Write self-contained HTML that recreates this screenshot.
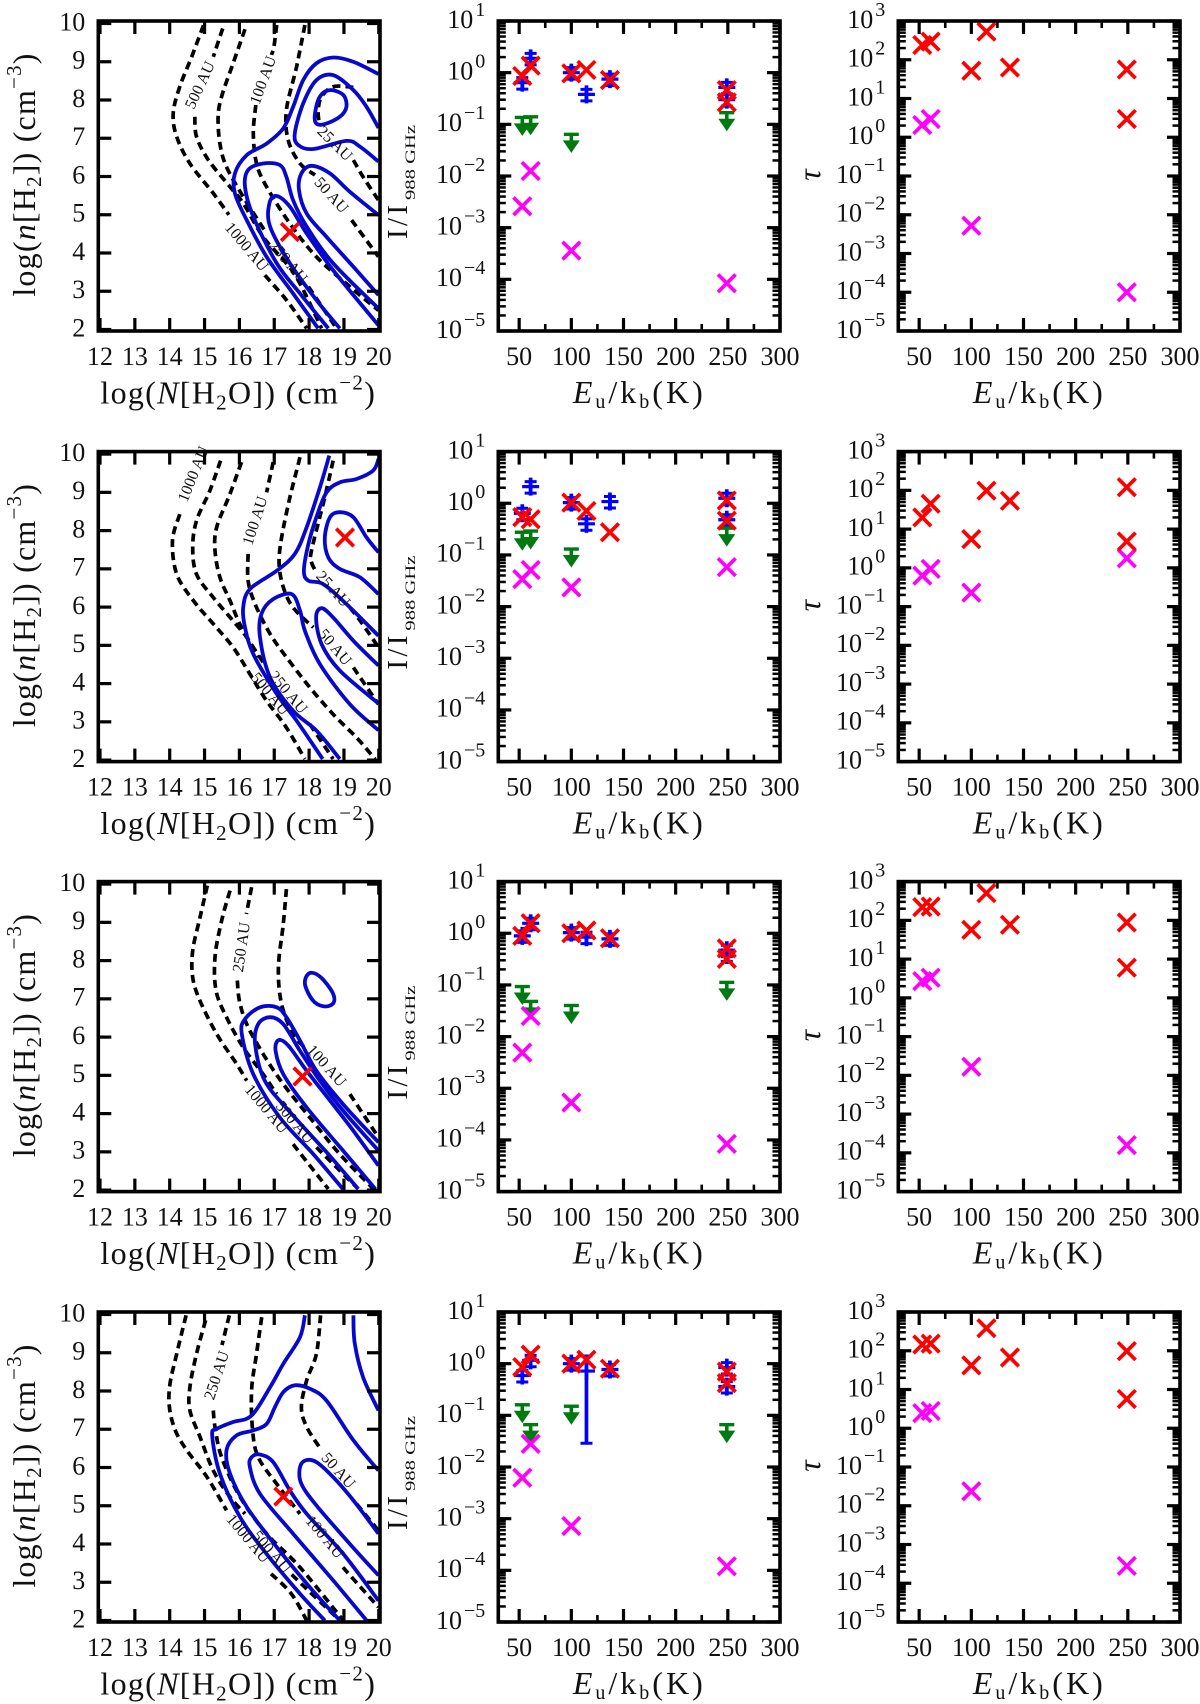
<!DOCTYPE html>
<html lang="en">
<head>
<meta charset="utf-8">
<title>Water line ratios and opacity model grid</title>
<style>
html,body{margin:0;padding:0;background:#fff;}
svg{display:block;font-family:"Liberation Serif","DejaVu Serif",serif;}
</style>
</head>
<body>
<svg id="figure" xmlns="http://www.w3.org/2000/svg" width="1200" height="1704" viewBox="0 0 1200 1704"></svg>
<script>
/* ---------- tick values ---------- */
const columnTicks = [12,13,14,15,16,17,18,19,20];
const densityTicks = [2,3,4,5,6,7,8,9,10];
const energyMajorTicks = [50,100,150,200,250,300];
const energyMinorTicks = [75,125,175,225,275];
const ratioTickExps = [1,0,-1,-2,-3,-4,-5];
const tauTickExps = [3,2,1,0,-1,-2,-3,-4,-5];

/* ---------- shared energies (K) ---------- */
const lineEnergies = [53,61,100,114.5,137,249,249];
const limitEnergies = [53,61,100,249];

/* ---------- row 1 ---------- */
const dashedRow1 = [
 [[14.97,9.95],[14.63,9.13],[14.29,8.35],[14.10,7.65],[14.20,7.04],[14.58,6.34],[15.25,5.56],[15.70,5.0]],
 [[16.73,3.42],[17.35,2.77],[17.93,2.03]],
 [[15.52,9.87],[15.25,9.13]],
 [[14.72,7.56],[14.77,7.04],[15.11,6.43],[15.73,5.73],[16.11,5.30],[16.68,4.42],[17.35,3.73],[17.74,3.2],[18.36,2.03]],
 [[16.16,9.85],[15.82,8.96],[15.49,8.09],[15.39,7.56],[15.44,6.86],[15.63,6.25],[16.11,5.47],[16.78,4.51]],
 [[17.98,3.12],[18.79,2.03]],
 [[17.07,9.96],[16.99,9.39],[16.92,9.18]],
 [[16.47,7.87],[16.4,7.13],[16.49,6.34],[16.78,5.73],[17.45,4.77],[18.21,3.9],[19.17,3.12],[19.99,2.5]],
 [[17.88,9.96],[17.64,8.87],[17.35,7.74],[17.4,6.95],[17.74,6.34],[18.17,6.04]],
 [[19.22,4.86],[19.99,3.9]],
 [[19.27,8.33],[18.7,8.35],[18.36,8.09],[18.26,7.74],[18.29,7.37]],
 [[19.27,6.43],[19.55,5.99],[19.99,5.38]]
];
const blueOpenRow1 = [
 [[19.99,8.68],[19.27,9.0],[18.69,9.11],[18.21,8.96],[17.83,8.52],[17.54,7.82],[17.26,7.26],[16.78,6.86],[16.21,6.56],[15.87,6.08],[15.87,5.56],[16.21,4.86],[16.78,3.9],[17.54,2.94],[18.26,2.03]],
 [[18.55,2.03],[17.74,2.94],[17.07,3.73],[16.4,4.95],[16.16,5.73],[16.25,6.17],[16.68,6.34],[17.16,6.3],[17.35,5.99],[17.54,5.38],[17.93,4.69],[18.69,3.73],[19.99,2.55]],
 [[18.88,2.03],[18.21,2.77],[17.45,3.73],[16.88,4.69],[16.86,5.3],[17.07,5.49],[17.45,5.21],[17.93,4.51],[18.69,3.55],[19.99,2.11]],
 [[19.99,2.9],[19.27,3.64],[18.5,4.42],[17.93,5.03],[17.71,5.64],[17.78,6.08],[18.07,6.28],[18.6,6.08],[19.17,5.6],[19.99,4.99]],
 [[19.99,7.27],[19.65,7.82],[19.27,8.26],[18.69,8.65],[18.21,8.52],[17.83,7.91],[17.59,7.13],[17.69,6.82],[18.12,6.72],[19.07,6.93],[19.46,6.78],[19.99,6.39]]
];
const blueClosedRow1 = [
 [[18.17,7.65],[18.31,8.09],[18.6,8.26],[18.98,8.13],[19.07,7.82],[18.88,7.56],[18.45,7.37],[18.2,7.39]]
];
const labelTextRow1 = ['500 AU','100 AU','25 AU','50 AU','250 AU','1000 AU'];
const labelXRow1 = [14.87,16.68,18.74,18.64,17.4,16.21];
const labelYRow1 = [8.39,8.52,6.86,5.51,3.77,4.16];
const labelAngleRow1 = [-65,-70,45,48,50,50];
const bestFitRow1 = [17.45,4.55];
const observedRow1 = [0.64,1.89,1.0,0.38,0.75,0.52,0.30];
const observedErrRow1 = [0.25,0.25,0.25,0.25,0.25,0.25,0.25];
const limitRow1 = [0.136,0.14,0.064,0.168];
const modelRedRow1 = [0.86,1.37,0.97,1.13,0.72,0.46,0.267];
const modelMagentaRow1 = [2.6e-3,1.25e-2,3.6e-4,8.4e-5];
const tauRedRow1 = [240,293,52,530,63,56,2.95];
const tauMagentaRow1 = [2.07,2.95,5.2e-3,1e-4];

/* ---------- row 2 ---------- */
const dashedRow2 = [
 [[14.29,8.43],[14.08,7.74],[14.2,6.86],[14.68,6.17],[15.25,5.56],[15.82,4.95],[16.3,4.25],[16.78,3.55],[17.35,2.85],[17.88,2.03]],
 [[15.46,9.83],[15.15,9.04],[14.77,8.26],[14.66,7.56],[14.77,6.86],[15.25,6.25],[15.82,5.64],[16.21,5.21],[16.54,4.69]],
 [[16.06,9.79],[15.73,8.96],[15.35,8.09],[15.3,7.48],[15.44,6.78],[15.73,6.17],[16.11,5.38],[16.78,4.42]],
 [[18.02,2.94],[18.69,2.03]],
 [[16.97,9.79],[16.78,9.0]],
 [[16.25,7.39],[16.25,6.69],[16.45,6.08],[16.88,5.3],[17.35,4.69],[18.02,3.9],[18.69,3.2],[19.36,2.59],[19.89,2.03]],
 [[17.74,9.92],[17.45,8.87],[17.21,7.82],[17.14,7.13],[17.26,6.52],[17.54,5.99],[18.12,5.47]],
 [[19.27,4.42],[19.99,3.46]],
 [[18.69,9.83],[18.45,8.87],[18.07,7.48],[18.07,7.17],[18.21,6.91]],
 [[19.17,5.99],[19.5,5.6],[19.99,4.95]]
];
const blueOpenRow2 = [
 [[18.58,9.96],[18.31,9.13],[17.93,8.09],[17.59,7.39],[17.07,6.95],[16.3,6.47],[16.11,5.99],[16.16,5.47],[16.4,4.77],[17.07,3.73],[17.64,3.03],[18.39,2.03]],
 [[18.88,2.03],[18.21,2.77],[17.54,3.29],[16.88,4.16],[16.59,5.21],[16.63,5.82],[16.97,6.21],[17.5,6.34],[17.74,5.91],[17.88,5.38],[18.31,4.51],[19.17,3.46],[19.99,2.78]],
 [[19.99,9.87],[19.84,9.57],[19.36,9.35],[18.88,9.26],[18.5,9.0],[18.21,8.35],[17.98,7.65],[17.85,6.95],[17.98,6.69],[18.41,6.6],[19.07,6.08],[19.99,5.25]],
 [[19.99,7.43],[19.65,7.82],[19.27,8.35],[18.88,8.48],[18.6,8.35],[18.45,7.82],[18.55,7.3],[18.88,7.0],[19.46,6.78],[19.99,6.34]],
 [[19.99,4.47],[19.27,5.12],[18.69,5.73],[18.36,5.97],[18.2,5.73],[18.36,5.03],[18.88,4.34],[19.99,3.48]]
];
const blueClosedRow2 = [];
const labelTextRow2 = ['1000 AU','100 AU','25 AU','50 AU','250 AU','500 AU'];
const labelXRow2 = [14.68,16.45,18.69,18.74,17.4,16.88];
const labelYRow2 = [9.48,8.26,6.47,4.95,3.77,3.73];
const labelAngleRow2 = [-68,-72,48,50,50,50];
const bestFitRow2 = [19.03,7.82];
const observedRow2 = [0.64,2.1,1.03,0.40,1.08,1.25,0.48];
const observedErrRow2 = [0.25,0.25,0.25,0.25,0.25,0.25,0.25];
const limitRow2 = [0.275,0.29,0.13,0.33];
const modelRedRow2 = [0.54,0.49,1.03,0.71,0.275,1.13,0.46];
const modelMagentaRow2 = [0.034,0.051,0.0236,0.058];
const tauRedRow2 = [20,45,5.5,98,54,120,4.8];
const tauMagentaRow2 = [0.63,0.94,0.23,1.77];

/* ---------- row 3 ---------- */
const dashedRow3 = [
 [[15.08,9.96],[14.87,9.13],[14.66,8.26],[14.66,7.56],[14.87,6.95],[15.35,6.08],[15.92,5.3],[16.21,4.86]],
 [[17.54,3.2],[18.55,2.03]],
 [[15.73,9.83],[15.49,9.04],[15.3,8.09],[15.33,7.21],[15.63,6.52],[16.11,5.73],[16.68,5.03],[17.07,4.51]],
 [[18.21,3.12],[19.41,2.03]],
 [[16.35,9.92],[16.2,9.22]],
 [[15.94,7.48],[16.0,6.95],[16.21,6.34],[16.68,5.56],[17.26,4.77],[18.02,3.9],[18.88,2.94],[19.85,2.03]],
 [[17.35,9.87],[17.26,8.96],[17.12,7.82],[17.21,6.86],[17.54,6.08],[17.87,5.73]],
 [[19.17,4.51],[19.99,3.38]]
];
const blueOpenRow3 = [
 [[18.97,2.03],[18.12,2.94],[17.16,3.9],[16.4,5.03],[16.07,6.08],[16.16,6.47],[16.59,6.78],[17.07,6.78],[17.35,6.52],[17.74,5.91],[18.21,5.12],[18.97,4.25],[19.99,3.25]],
 [[19.41,2.03],[18.55,2.94],[17.5,3.99],[16.73,4.86],[16.45,5.82],[16.54,6.34],[16.88,6.52],[17.26,6.34],[17.74,5.64],[18.31,4.86],[18.98,4.07],[19.99,3.03]],
 [[19.9,2.03],[19.06,2.94],[17.93,4.16],[17.26,5.03],[17.04,5.64],[17.12,5.92],[17.4,5.78],[17.93,5.12],[18.6,4.34],[19.27,3.55],[19.99,2.64]]
];
const blueClosedRow3 = [
 [[17.89,7.52],[18.05,7.68],[18.34,7.56],[18.67,7.17],[18.71,6.91],[18.48,6.8],[18.16,6.91],[17.92,7.26]]
];
const labelTextRow3 = ['250 AU','100 AU','1000 AU','500 AU'];
const labelXRow3 = [16.06,18.5,16.78,17.59];
const labelYRow3 = [8.35,5.25,4.12,3.77];
const labelAngleRow3 = [-82,48,50,50];
const bestFitRow3 = [17.81,4.97];
const observedRow3 = [0.89,1.56,1.03,0.84,0.78,0.47,0.38];
const observedErrRow3 = [0.25,0.25,0.25,0.25,0.25,0.25,0.25];
const limitRow3 = [0.093,0.048,0.04,0.112];
const modelRedRow3 = [0.89,1.56,1.0,1.13,0.8,0.51,0.32];
const modelMagentaRow3 = [4.9e-3,0.025,5.3e-4,8.4e-5];
const tauRedRow3 = [220,228,57,505,77,88,6];
const tauMagentaRow3 = [2.7,3.3,0.0167,1.58e-4];

/* ---------- row 4 ---------- */
const dashedRow4 = [
 [[14.47,9.98],[14.2,8.97],[14.01,8.19],[13.99,7.58],[14.16,6.97],[14.49,6.45],[15.07,5.75],[15.63,4.88]],
 [[16.91,3.22],[17.49,2.7],[17.93,2.0]],
 [[15.03,9.85],[14.77,8.97],[14.58,8.1],[14.58,7.49],[14.87,6.8],[15.25,5.92],[15.73,5.23],[16.16,4.79]],
 [[17.5,3.2],[18.88,2.0]],
 [[15.71,9.98],[15.5,9.2]],
 [[15.25,7.49],[15.3,7.06],[15.49,6.27],[16.02,5.23],[16.78,4.27],[17.74,3.39],[18.98,2.0]],
 [[16.64,9.93],[16.49,8.97],[16.35,8.02],[16.38,6.97],[16.54,6.27],[17.07,5.57],[17.74,4.79]],
 [[18.97,3.39],[19.99,2.35]],
 [[18.33,9.98],[18.21,8.97],[17.93,8.28],[17.78,7.58],[17.93,7.06],[18.36,6.45]],
 [[19.36,5.05],[19.99,4.35]]
];
const blueOpenRow4 = [
 [[17.88,9.98],[17.74,9.41],[17.26,8.71],[16.88,8.1],[16.35,7.36],[15.82,7.19],[15.35,7.01],[15.22,6.84],[15.44,5.84],[16.02,4.7],[16.78,3.74],[17.74,2.7],[18.45,2.0]],
 [[19.99,5.92],[19.27,6.71],[18.5,7.75],[18.02,8.06],[17.59,8.15],[17.26,7.97],[17.02,7.58],[16.78,7.14],[16.4,6.97],[15.92,6.84],[15.63,6.45],[15.73,5.84],[16.21,4.97],[17.07,3.92],[18.02,2.87],[18.88,2.0]],
 [[19.65,2.0],[18.69,3.05],[17.54,4.27],[16.59,5.31],[16.3,6.01],[16.35,6.27],[16.59,6.34],[16.97,6.14],[17.45,5.4],[17.93,4.79],[18.98,3.74],[19.99,2.52]],
 [[19.99,3.18],[19.17,4.0],[18.21,5.01],[17.78,5.57],[17.73,5.97],[17.88,6.18],[18.21,6.14],[18.69,5.75],[19.27,5.14],[19.99,4.27]],
 [[19.27,9.98],[19.31,9.24],[19.55,8.36],[19.99,7.49]]
];
const blueClosedRow4 = [];
const labelTextRow4 = ['250 AU','50 AU','100 AU','1000 AU','500 AU'];
const labelXRow4 = [15.35,18.84,18.45,16.25,16.92];
const labelYRow4 = [8.41,5.92,4.18,4.14,3.79];
const labelAngleRow4 = [-72,48,50,50,50];
const bestFitRow4 = [17.26,5.24];
const observedRow4 = [0.59,1.16,1.0,0.72,0.77,0.84,0.36];
const observedErrRow4 = [0.25,0.25,0.25,0.96,0.25,0.25,0.25];
const limitRow4 = [0.16,0.066,0.15,0.066];
const modelRedRow4 = [0.86,1.5,1.0,1.19,0.8,0.7,0.42];
const modelMagentaRow4 = [6.2e-3,0.028,7.2e-4,1.2e-4];
const tauRedRow4 = [145,153,42,382,67,98,5.7];
const tauMagentaRow4 = [2.45,2.8,0.0237,2.8e-4];

const rows = [
 {dashed:dashedRow1,open:blueOpenRow1,closed:blueClosedRow1,lt:labelTextRow1,lx:labelXRow1,ly:labelYRow1,la:labelAngleRow1,fit:bestFitRow1,obs:observedRow1,err:observedErrRow1,lim:limitRow1,red:modelRedRow1,mag:modelMagentaRow1,tr:tauRedRow1,tm:tauMagentaRow1},
 {dashed:dashedRow2,open:blueOpenRow2,closed:blueClosedRow2,lt:labelTextRow2,lx:labelXRow2,ly:labelYRow2,la:labelAngleRow2,fit:bestFitRow2,obs:observedRow2,err:observedErrRow2,lim:limitRow2,red:modelRedRow2,mag:modelMagentaRow2,tr:tauRedRow2,tm:tauMagentaRow2},
 {dashed:dashedRow3,open:blueOpenRow3,closed:blueClosedRow3,lt:labelTextRow3,lx:labelXRow3,ly:labelYRow3,la:labelAngleRow3,fit:bestFitRow3,obs:observedRow3,err:observedErrRow3,lim:limitRow3,red:modelRedRow3,mag:modelMagentaRow3,tr:tauRedRow3,tm:tauMagentaRow3},
 {dashed:dashedRow4,open:blueOpenRow4,closed:blueClosedRow4,lt:labelTextRow4,lx:labelXRow4,ly:labelYRow4,la:labelAngleRow4,fit:bestFitRow4,obs:observedRow4,err:observedErrRow4,lim:limitRow4,red:modelRedRow4,mag:modelMagentaRow4,tr:tauRedRow4,tm:tauMagentaRow4}
];

/* ---------- layout ---------- */
const rowTops = [21,451.6,881.6,1312];
const colLefts = [98.3,498.3,898.3];
const PW = 281.7, PH = 310;
const NS = 'http://www.w3.org/2000/svg';
const svg = document.getElementById('figure');

function mk(tag, parent){
  const el = document.createElementNS(NS, tag);
  parent.appendChild(el);
  return el;
}
function setAll(el, obj){ for(const k in obj) el.setAttribute(k, obj[k]); }

function tick(g, x1, y1, x2, y2, w){
  const l = mk('line', g);
  
  
  setAll(l, {x1:x1,y1:y1,x2:x2,y2:y2,stroke:'#000','stroke-width':w});
}
function text(g, pieces, x, y, size, anchor, transform, spacing){
  const t = mk('text', g);
  setAll(t, {x:x,y:y,'font-size':size,'text-anchor':anchor,fill:'#111'});
  if(transform) t.setAttribute('transform', transform);
  if(spacing) t.setAttribute('letter-spacing', spacing);
  let shift = 0;
  pieces.forEach(p => {
    const s = mk('tspan', t);
    s.textContent = p.t;
    const target = p.dy || 0;
    if(target !== shift){ s.setAttribute('dy', target - shift); shift = target; }
    if(p.size) s.setAttribute('font-size', p.size);
    if(p.italic) s.setAttribute('font-style', 'italic');
    if(p.dx) s.setAttribute('dx', p.dx);
  });
  return t;
}
function smooth(pts, closed){
  const n = pts.length;
  const at = i => closed ? pts[(i+n)%n] : pts[Math.max(0,Math.min(n-1,i))];
  let d = 'M' + pts[0][0].toFixed(1) + ' ' + pts[0][1].toFixed(1);
  const last = closed ? n : n-1;
  for(let i=0;i<last;i++){
    const p0=at(i-1),p1=at(i),p2=at(i+1),p3=at(i+2);
    const c1x=p1[0]+(p2[0]-p0[0])/6,c1y=p1[1]+(p2[1]-p0[1])/6;
    const c2x=p2[0]-(p3[0]-p1[0])/6,c2y=p2[1]-(p3[1]-p1[1])/6;
    d += 'C'+c1x.toFixed(1)+' '+c1y.toFixed(1)+' '+c2x.toFixed(1)+' '+c2y.toFixed(1)+' '+p2[0].toFixed(1)+' '+p2[1].toFixed(1);
  }
  return d + (closed ? 'Z' : '');
}
function clipFor(id, left, top){
  const c = mk('clipPath', svg);
  c.setAttribute('id', id);
  const r = mk('rect', c);
  setAll(r, {x:left,y:top,width:PW,height:PH});
}
function frame(g, left, top){
  const r = mk('rect', g);
  
  
  setAll(r, {x:left,y:top,width:PW,height:PH,fill:'none',stroke:'#000','stroke-width':3.6});
}
function cross(g, x, y, color){
  const p = mk('path', g);
  
  
  const h = 8.8;
  setAll(p, {d:'M'+(x-h)+' '+(y-h)+'L'+(x+h)+' '+(y+h)+'M'+(x-h)+' '+(y+h)+'L'+(x+h)+' '+(y-h),stroke:color,'stroke-width':3.7,fill:'none'});
}
function bar(g, x1, y1, x2, y2, w, color){
  const l = mk('line', g);
  
  
  setAll(l, {x1:x1,y1:y1,x2:x2,y2:y2,stroke:color,'stroke-width':w});
}
function energyAxis(g, sx, top, left){
  energyMajorTicks.forEach(v => {
    const x = sx(v);
    tick(g,x,top+PH,x,top+PH-13,3.2);
    tick(g,x,top,x,top+13,3.2);
    const t = text(g,[{t:String(v)}],x,top+344,26,'middle');
    
    
  });
  energyMinorTicks.forEach(v => {
    const x = sx(v);
    tick(g,x,top+PH,x,top+PH-7,2.6);
    tick(g,x,top,x,top+7,2.6);
  });
  const xt = text(g,[{t:'E',italic:true},{t:'u',size:20,dy:5},{t:'/k'},{t:'b',size:20,dy:5},{t:'(K)'}],left+141,top+382,32,'middle',null,3);
  
  
}
function logAxis(g, sy, exps, left, top){
  const lo = exps[exps.length-1];
  exps.forEach(e => {
    const y = sy(Math.pow(10,e));
    tick(g,left,y,left+13,y,3.2);
    tick(g,left+PW,y,left+PW-13,y,3.2);
    const lab = String(e).replace('-','\u2212');
    const t = text(g,[{t:'10'},{t:lab,size:20,dy:-12,dx:2}],left-13,y+6.8,26,'end');
    
    
    if(e > lo){
      for(let m=2;m<=9;m++){
        const my = sy(m*Math.pow(10,e-1));
        tick(g,left,my,left+7.5,my,2.5);
        tick(g,left+PW,my,left+PW-7.5,my,2.5);
      }
    }
  });
}

rows.forEach((row, r) => {
  const top = rowTops[r];

  /* ---- contour panel ---- */
  {
    const left = colLefts[0];
    const g = mk('g', svg);
    
    
    const sx = v => left + 1.7 + (v-12)*34.85;
    const sy = v => top + 308.5 - (v-2)*38.25;
    const cid = 'clipA'+r;
    clipFor(cid,left,top);
    const lines = mk('g', g);
    lines.setAttribute('clip-path','url(#'+cid+')');
    row.dashed.forEach(c => {
      const p = mk('path', lines);
      
      
      setAll(p, {d:smooth(c.map(q=>[sx(q[0]),sy(q[1])]),false),fill:'none',stroke:'#000','stroke-width':3.7,'stroke-dasharray':'8 5'});
    });
    row.open.forEach(c => {
      const p = mk('path', lines);
      
      
      setAll(p, {d:smooth(c.map(q=>[sx(q[0]),sy(q[1])]),false),fill:'none',stroke:'#0808cc','stroke-width':3.8});
    });
    row.closed.forEach(c => {
      const p = mk('path', lines);
      
      
      setAll(p, {d:smooth(c.map(q=>[sx(q[0]),sy(q[1])]),true),fill:'none',stroke:'#0808cc','stroke-width':3.8});
    });
    row.lt.forEach((s,i) => {
      const x = sx(row.lx[i]), y = sy(row.ly[i]);
      const t = text(g,[{t:s}],x,y+5,16,'middle','rotate('+row.la[i]+' '+x+' '+y+')');
      
      
    });
    cross(g,sx(row.fit[0]),sy(row.fit[1]),'#ff0000');
    columnTicks.forEach(v => {
      const x = sx(v);
      tick(g,x,top+PH,x,top+PH-13,3.2);
      tick(g,x,top,x,top+13,3.2);
      const t = text(g,[{t:String(v)}],x,top+344,26,'middle');
      
      
    });
    densityTicks.forEach(v => {
      const y = sy(v);
      tick(g,left,y,left+13,y,3.2);
      tick(g,left+PW,y,left+PW-13,y,3.2);
      const t = text(g,[{t:String(v)}],left-13,y+6.8,26,'end');
      
      
    });
    frame(g,left,top);
    const xt = text(g,[{t:'log('},{t:'N',italic:true},{t:'[H'},{t:'2',size:21,dy:6},{t:'O]) (cm'},{t:'\u22122',size:21,dy:-14},{t:')'}],left+140,top+382.5,32,'middle',null,1.3);
    
    
    const cy = top+153.5;
    const yt = text(g,[{t:'log('},{t:'n',italic:true},{t:'[H'},{t:'2',size:21,dy:6},{t:']) (cm'},{t:'\u22123',size:21,dy:-14},{t:')'}],35,cy,32,'middle','rotate(-90 35 '+cy+')',1.2);
    
    
  }

  /* ---- line ratio panel ---- */
  {
    const left = colLefts[1];
    const g = mk('g', svg);
    
    
    const sx = v => left + (v-30)*(PW/270);
    const sy = v => top + (1-Math.log10(v))*(PH/6);
    const cid = 'clipB'+r;
    clipFor(cid,left,top);
    const marks = mk('g', g);
    marks.setAttribute('clip-path','url(#'+cid+')');
    lineEnergies.forEach((e,i) => {
      const x = sx(e), v = row.obs[i], er = row.err[i];
      const y = sy(v);
      bar(marks,x,y-9,x,y+9,3.7,'#0000ff');
      bar(marks,x-8.5,y,x+8.5,y,3.2,'#0000ff');
      const hi = sy(v*(1+er)), lo = sy(v*(1-er));
      bar(marks,x,hi,x,lo,3.7,'#0000ff');
      bar(marks,x-6,hi,x+6,hi,3,'#0000ff');
      bar(marks,x-6,lo,x+6,lo,3,'#0000ff');
    });
    limitEnergies.forEach((e,i) => {
      const x = sx(e), y = sy(row.lim[i]);
      bar(marks,x-7.5,y,x+7.5,y,3.4,'#007a10');
      bar(marks,x,y,x,y+8,3.6,'#007a10');
      const p = mk('path', marks);
      
      
      setAll(p, {d:'M'+(x-8.5)+' '+(y+6)+'L'+(x+8.5)+' '+(y+6)+'L'+x+' '+(y+18.5)+'Z',fill:'#007a10'});
    });
    limitEnergies.forEach((e,i) => {
      cross(marks,sx(e),sy(row.mag[i]),'#ff00ff');
    });
    lineEnergies.forEach((e,i) => {
      cross(marks,sx(e),sy(row.red[i]),'#ff0000');
    });
    energyAxis(g,sx,top,left);
    logAxis(g,sy,ratioTickExps,left,top);
    frame(g,left,top);
    const a = top+218;
    const t1 = mk('text', g);
    
    
    setAll(t1, {x:407,y:a,'font-size':29,fill:'#111',transform:'rotate(-90 407 '+a+')',textLength:34});
    t1.textContent = 'I/I';
    const b = top+179;
    const t2 = mk('text', g);
    
    
    setAll(t2, {x:415,y:b,'font-size':15,fill:'#111',transform:'rotate(-90 415 '+b+')',textLength:75,lengthAdjust:'spacingAndGlyphs'});
    t2.textContent = '988 GHz';
  }

  /* ---- optical depth panel ---- */
  {
    const left = colLefts[2];
    const g = mk('g', svg);
    
    
    const sx = v => left + (v-30)*(PW/270);
    const sy = v => top + (3-Math.log10(v))*(PH/8);
    const cid = 'clipC'+r;
    clipFor(cid,left,top);
    const marks = mk('g', g);
    marks.setAttribute('clip-path','url(#'+cid+')');
    limitEnergies.forEach((e,i) => {
      cross(marks,sx(e),sy(row.tm[i]),'#ff00ff');
    });
    lineEnergies.forEach((e,i) => {
      cross(marks,sx(e),sy(row.tr[i]),'#ff0000');
    });
    energyAxis(g,sx,top,left);
    logAxis(g,sy,tauTickExps,left,top);
    frame(g,left,top);
    const cy = top+154;
    const t = text(g,[{t:'\u03C4',italic:true}],820,cy,32,'middle','rotate(-90 820 '+cy+')');
    
    
  }
});
</script>
</body>
</html>
